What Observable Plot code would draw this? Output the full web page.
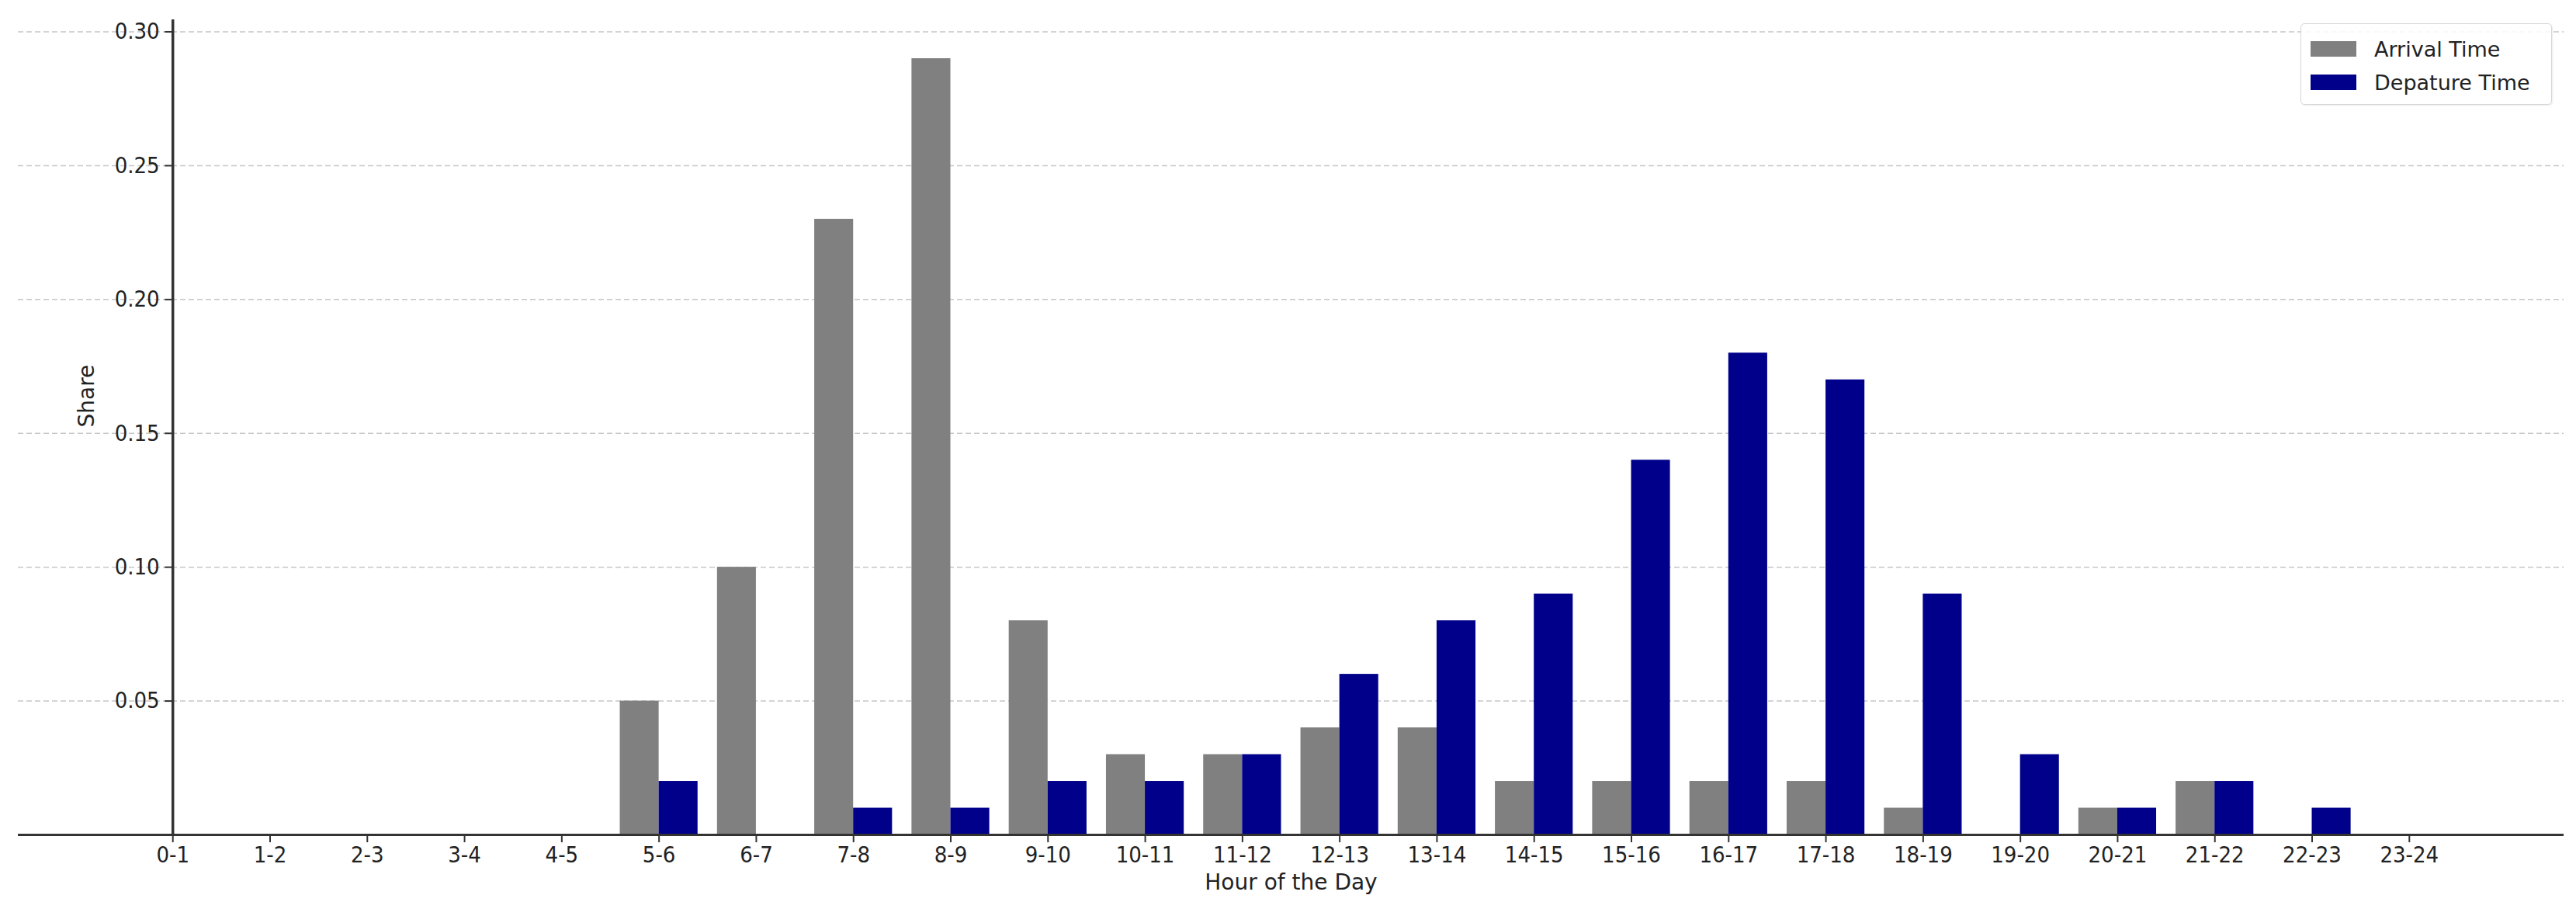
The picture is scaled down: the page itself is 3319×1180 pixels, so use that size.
<!DOCTYPE html>
<html>
<head>
<meta charset="utf-8">
<script src="https://cdn.jsdelivr.net/npm/d3@7"></script>
<script src="https://cdn.jsdelivr.net/npm/@observablehq/plot@0.6"></script>
<style>
  html, body { margin: 0; padding: 0; background: #fff; }
  #wrap { position: relative; width: 3319px; height: 1180px; font-family: "DejaVu Sans", sans-serif; }
  #legend { position: absolute; left: 2964px; top: 30px; width: 322px; height: 103px;
            border: 1.5px solid #d6d6d6; border-radius: 5px; background: rgba(255,255,255,0.85);
            box-shadow: 1px 1px 2px rgba(0,0,0,0.08); }
  .row { position: absolute; left: 12px; height: 22px; display: flex; align-items: center; }
  .sw { width: 59px; height: 20px; margin-right: 23px; }
  .lab { font-size: 27px; color: #222; white-space: nowrap; }
  .cond text { font-family: "DejaVu Sans Condensed", "DejaVu Sans", sans-serif; font-stretch: condensed; }
</style>
</head>
<body>
<div id="wrap"></div>
<script>
const categories = ["0-1","1-2","2-3","3-4","4-5","5-6","6-7","7-8","8-9","9-10","10-11","11-12",
  "12-13","13-14","14-15","15-16","16-17","17-18","18-19","19-20","20-21","21-22","22-23","23-24"];
const arrivalTime   = [0,0,0,0,0,0.05,0.10,0.23,0.29,0.08,0.03,0.03,0.04,0.04,0.02,0.02,0.02,0.02,0.01,0,0.01,0.02,0,0];
const departureTime = [0,0,0,0,0,0.02,0,0.01,0.01,0.02,0.02,0.03,0.06,0.08,0.09,0.14,0.18,0.17,0.09,0.03,0.01,0.02,0.01,0];
const seriesNames = ["Arrival Time", "Depature Time"];
const seriesColors = ["#808080", "#00008b"];
const yTicks = [0.05, 0.10, 0.15, 0.20, 0.25, 0.30];

const barW = 0.4;
const rows = [];
categories.forEach((c, i) => {
  rows.push({i, cat: c, series: seriesNames[0], value: arrivalTime[i], off: -barW});
  rows.push({i, cat: c, series: seriesNames[1], value: departureTime[i], off: 0});
});
const nonzero = rows.filter(d => d.value > 0);
const idx = categories.map((c, i) => i);

const chart = Plot.plot({
  width: 3319,
  height: 1180,
  marginTop: 25,
  marginBottom: 105,
  marginLeft: 23,
  marginRight: 16,
  style: {fontFamily: "DejaVu Sans, sans-serif", background: "#fff", color: "#222"},
  x: {type: "linear", domain: [-1.59, 24.59], axis: null},
  y: {domain: [0, 0.3045], axis: null},
  color: {domain: seriesNames, range: seriesColors},
  marks: [
    Plot.gridY(yTicks, {stroke: "#b8b8b8", strokeOpacity: 0.8, strokeWidth: 1.5, strokeDasharray: "7,4"}),
    Plot.rectY(nonzero, {x1: d => d.i + d.off, x2: d => d.i + d.off + barW, y1: 0, y2: "value", fill: "series"}),
    Plot.ruleY([0], {stroke: "#333", strokeWidth: 3}),
    Plot.ruleX([0], {stroke: "#333", strokeWidth: 3.5}),
    Plot.ruleY(yTicks, {y: d => d, x1: 0, x2: 0, insetLeft: -10, stroke: "#333", strokeWidth: 2}),
    Plot.text(yTicks, {y: d => d, x: 0, dx: -17, text: d => d.toFixed(2), textAnchor: "end", fontSize: 29, fill: "#222", className: "cond"}),
    Plot.axisX(idx, {ticks: idx, tickFormat: i => categories[i], tickSize: 10, tickPadding: 5, fontSize: 29, stroke: "#333", strokeWidth: 2, fill: "#222", label: null, className: "cond"}),
    Plot.text(["Hour of the Day"], {frameAnchor: "bottom", dy: 70, fontSize: 28, fill: "#222"}),
    Plot.text(["Share"], {frameAnchor: "left", dx: 89, rotate: -90, fontSize: 28, fill: "#222"})
  ]
});

const wrap = document.getElementById("wrap");
wrap.appendChild(chart);

const legend = document.createElement("div");
legend.id = "legend";
seriesNames.forEach((name, k) => {
  const row = document.createElement("div");
  row.className = "row";
  row.style.top = (21 + k * 43) + "px";
  const sw = document.createElement("div");
  sw.className = "sw";
  sw.style.background = seriesColors[k];
  const lab = document.createElement("span");
  lab.className = "lab";
  lab.textContent = name;
  row.appendChild(sw);
  row.appendChild(lab);
  legend.appendChild(row);
});
wrap.appendChild(legend);
</script>
</body>
</html>
